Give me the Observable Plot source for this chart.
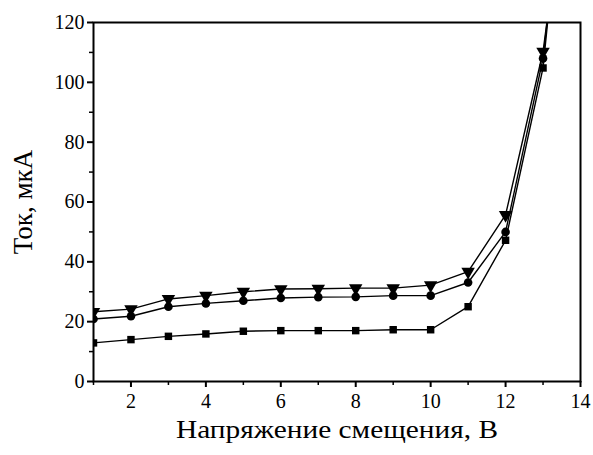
<!DOCTYPE html>
<html><head><meta charset="utf-8">
<script src="https://cdn.jsdelivr.net/npm/d3@7"></script>
<script src="https://cdn.jsdelivr.net/npm/@observablehq/plot@0.6"></script>
<style>body{margin:0;background:#fff}</style>
</head><body><div id="chart"></div>
<script>
const xs = [1,2,3,4,5,6,7,8,9,10,11,12,13,14];
const squares   = [12.9,14,15.1,15.9,16.8,17,17,17,17.3,17.3,25,47.2,104.8,230];
const circles   = [20.9,21.8,25,26.1,27,27.9,28.2,28.3,28.7,28.7,33.1,50,108,220];
const triangles = [23.3,24.2,27.6,28.7,30,30.9,31,31.2,31.2,32.2,36.7,55.7,110.3,205];
const xTicks = [2,4,6,8,10,12,14];
const xMinor = [1,3,5,7,9,11,13];
const yTicks = [0,20,40,60,80,100,120];
const yMinor = [10,30,50,70,90,110];
const xLabel = "Напряжение смещения, В";
const yLabel = "Ток, мкА";

const series = [
  {name:"squares", vals:squares, symbol:"square", rot:0, r:4.2},
  {name:"circles", vals:circles, symbol:"circle", rot:0, r:4.3},
  {name:"triangles", vals:triangles, symbol:"triangle", rot:180, r:5}
];
const data = series.flatMap(s => xs.map((x,i)=>({x, y:s.vals[i], s:s.name})));

const font = "'Liberation Serif', 'Times New Roman', serif";
const chart = Plot.plot({
  width:593, height:455,
  marginLeft:93, marginRight:13, marginTop:22, marginBottom:74,
  style:{fontFamily:font, fontSize:"20px", background:"#fff", color:"#000"},
  x:{domain:[1,14]},
  y:{domain:[0,120]},
  marks:[
    Plot.line(data, {x:"x", y:"y", z:"s", stroke:"#000", strokeWidth:1.4, clip:true}),
    ...series.map(s => Plot.dot(data.filter(d=>d.s===s.name), {x:"x", y:"y", symbol:()=>s.symbol, r:s.r, rotate:s.rot, fill:"#000", stroke:"none", clip:true})),
    Plot.frame({stroke:"#000", strokeWidth:2}),
    Plot.axisX(xTicks, {tickSize:6, strokeWidth:2, tickPadding:6, fontSize:20, label:null}),
    Plot.axisX(xMinor, {tickSize:4, strokeWidth:1.5, text:null, label:null}),
    Plot.axisY(yTicks, {tickSize:6, strokeWidth:2, tickPadding:3, fontSize:20, label:null}),
    Plot.axisY(yMinor, {tickSize:4, strokeWidth:1.5, text:null, label:null}),
    Plot.text([xLabel], {frameAnchor:"bottom", dy:56, fontSize:26, fill:"#000", text:d=>d, className:"xtitle"}),
    Plot.text([yLabel], {frameAnchor:"left", textAnchor:"middle", dx:-70, rotate:-90, fontSize:27, fill:"#000", text:d=>d, className:"ytitle"})
  ]
});
document.getElementById("chart").append(chart);
d3.select(chart).selectAll("text").style("font-family", font);
d3.select(chart).selectAll(".xtitle text").attr("textLength", 322).attr("lengthAdjust", "spacingAndGlyphs");
</script>
</body></html>
